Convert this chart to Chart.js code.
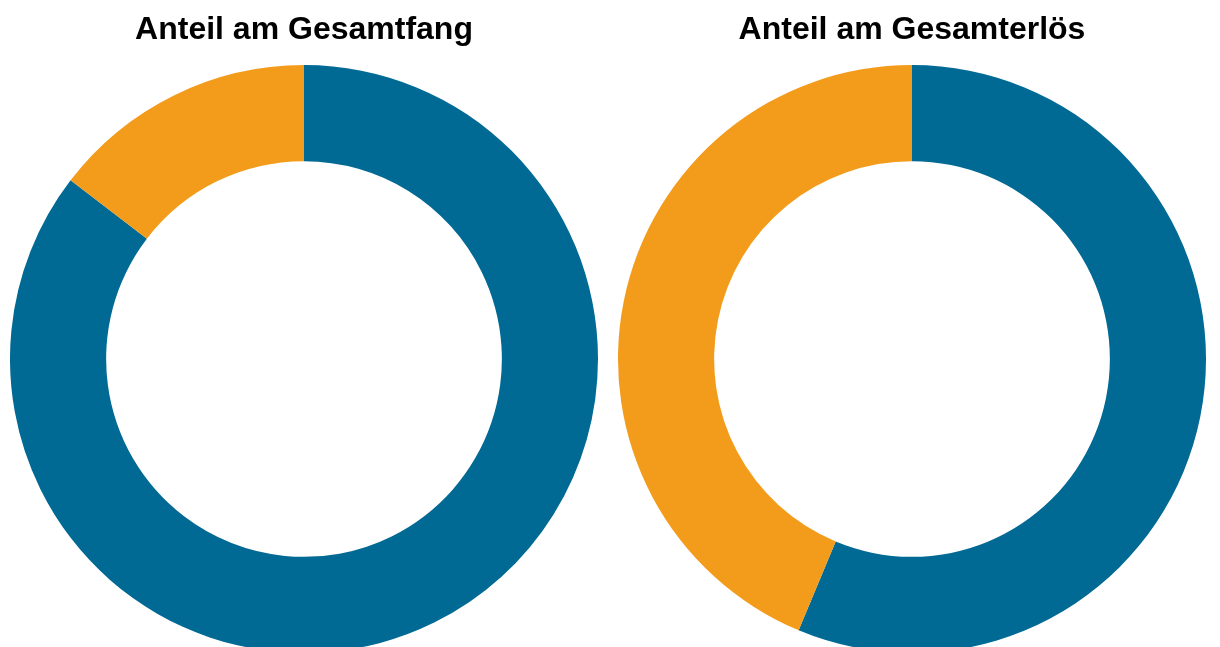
<!DOCTYPE html>
<html><head><meta charset="utf-8">
<script src="https://cdn.jsdelivr.net/npm/chart.js@4/dist/chart.umd.min.js"></script>
<style>
html,body{margin:0;padding:0;background:#fff;overflow:hidden;width:1220px;height:647px;}
.box{position:absolute;top:0;width:588px;height:653px;}
#b1{left:10px;} #b2{left:618px;}
</style></head><body>
<div class="box" id="b1"><canvas id="c1"></canvas></div>
<div class="box" id="b2"><canvas id="c2"></canvas></div>
<script>
const categories = ["Kategorie A", "Kategorie B"];
const titles = ["Anteil am Gesamtfang", "Anteil am Gesamterlös"];
const fangValues = [85.4, 14.6];
const erloesValues = [56.3, 43.7];
const colors = ["#006994", "#F39C1C"];

function make(id, title, values){
  new Chart(document.getElementById(id), {
    type: 'doughnut',
    data: { labels: categories, datasets: [{ data: values, backgroundColor: colors, borderWidth: 0, hoverOffset: 0 }] },
    options: {
      responsive: true, maintainAspectRatio: false, animation: false,
      cutout: '67.3%',
      layout: { padding: 0 },
      plugins: {
        legend: { display: false },
        tooltip: { enabled: false },
        title: { display: true, text: title, color: '#000',
          font: { family: 'Liberation Sans, Arial, sans-serif', size: 32, weight: 'bold' },
          padding: { top: 10.5, bottom: 16.1 } }
      }
    }
  });
}
make('c1', titles[0], fangValues);
make('c2', titles[1], erloesValues);
</script>
</body></html>
